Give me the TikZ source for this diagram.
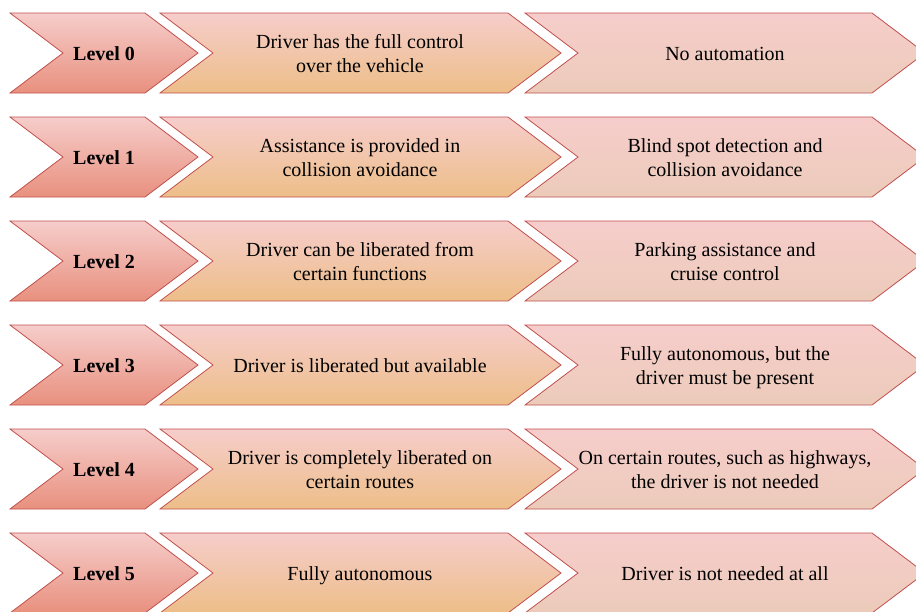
\documentclass[tikz,border=0pt]{standalone}
\usepackage{fontspec}
\setmainfont{Liberation Serif}
\definecolor{topc}{HTML}{F6CDCB}
\definecolor{lvlbot}{HTML}{E8907E}
\definecolor{midbot}{HTML}{EDBE88}
\definecolor{rbot}{HTML}{ECCBBA}
\definecolor{edge}{HTML}{C0504D}
\tikzset{
  chev/.style={draw=edge, line width=0.8pt, top color=topc, line join=miter},
  lvl/.style={chev, bottom color=lvlbot},
  mid/.style={chev, bottom color=midbot},
  rgt/.style={chev, bottom color=rbot},
  txt/.style={align=center, font=\fontsize{20}{24}\selectfont, inner sep=0pt},
  btxt/.style={txt, font=\fontsize{20}{24}\selectfont\bfseries},
}
\begin{document}
\begin{tikzpicture}[x=1pt,y=-1pt]
\useasboundingbox (0,0) rectangle (916,611);
\clip (0,0) rectangle (916,611);
\foreach \i/\mtext/\rtext in {
  0/{\strut Driver has the full control\\\strut over the vehicle}/{\strut No automation},
  1/{\strut Assistance is provided in\\\strut collision avoidance}/{\strut Blind spot detection and\\\strut collision avoidance},
  2/{\strut Driver can be liberated from\\\strut certain functions}/{\strut Parking assistance and\\\strut cruise control},
  3/{\strut Driver is liberated but available}/{\strut Fully autonomous, but the\\\strut driver must be present},
  4/{\strut Driver is completely liberated on\\\strut certain routes}/{\strut On certain routes, such as highways,\\\strut the driver is not needed},
  5/{\strut Fully autonomous}/{\strut Driver is not needed at all}}{
  \pgfmathsetmacro{\t}{13+104*\i}
  \path[lvl] (10,\t) -- (145,\t) -- (198,\t+40) -- (145,\t+80) -- (10,\t+80) -- (63,\t+40) -- cycle;
  \path[mid] (160,\t) -- (508,\t) -- (561,\t+40) -- (508,\t+80) -- (160,\t+80) -- (213,\t+40) -- cycle;
  \path[rgt] (525,\t) -- (872,\t) -- (925,\t+40) -- (872,\t+80) -- (525,\t+80) -- (578,\t+40) -- cycle;
  \node[btxt] (L\i) at (104,\t+43) {\strut Level \i};
  \node[txt] (M\i) at (360,\t+43) {\mtext};
  \node[txt] (R\i) at (725,\t+43) {\rtext};
}
\end{tikzpicture}
\end{document}
